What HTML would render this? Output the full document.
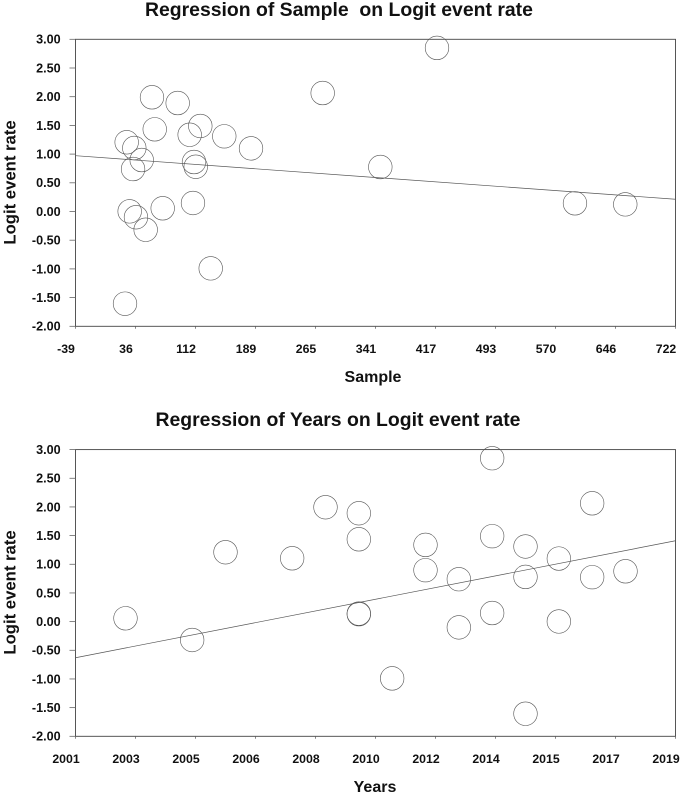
<!DOCTYPE html>
<html>
<head>
<meta charset="utf-8">
<title>Regression charts</title>
<style>
html,body{margin:0;padding:0;background:#fff;width:685px;height:795px;overflow:hidden}
svg{display:block;position:absolute;left:0;top:0}
text{font-family:"Liberation Sans",Arial,sans-serif;font-weight:bold;fill:#111;white-space:pre}
.tick{font-size:12.6px}
.xtick{font-size:12.3px}
.title{font-size:19.4px}
.axt{font-size:16px}
.axv{font-size:16.7px}
</style>
</head>
<body>
<svg id="chart" xmlns="http://www.w3.org/2000/svg" width="685" height="795" viewBox="0 0 685 795">
  <g style="filter:blur(0.3px)">
  <text class="title" x="145" y="16">Regression of Sample  on Logit event rate</text>
  <text class="title" x="155.5" y="426">Regression of Years on Logit event rate</text>
  <text class="axt" x="373" y="382" text-anchor="middle">Sample</text>
  <text class="axt" x="375" y="792" text-anchor="middle">Years</text>
  <text class="axv" transform="translate(15.5,182.5) rotate(-90)" text-anchor="middle">Logit event rate</text>
  <text class="axv" transform="translate(15.5,592.5) rotate(-90)" text-anchor="middle">Logit event rate</text>
  <g id="plots"></g>
  </g>
</svg>
<script>
var rateTicks = [3, 2.5, 2, 1.5, 1, 0.5, 0, -0.5, -1, -1.5, -2];
var rateTickLabels = ["3.00", "2.50", "2.00", "1.50", "1.00", "0.50", "0.00", "-0.50", "-1.00", "-1.50", "-2.00"];

var sampleTicks = [-39, 37.1, 113.2, 189.3, 265.4, 341.5, 417.6, 493.7, 569.8, 645.9, 722];
var sampleTickLabels = ["-39", "36", "112", "189", "265", "341", "417", "493", "570", "646", "722"];
var sampleValues = [23.8, 25.9, 35.6, 45, 34, 29.7, 37.7, 50, 71.6, 58, 61.5, 90.6, 105.8, 119.3, 111.3, 113.5, 110, 132.5, 149.7, 183.6, 274.5, 419.5, 347.6, 594.5, 658.3];
var sampleRates = [-1.606, 1.206, 1.106, 0.897, 0.74, 0.003, -0.1, -0.317, 0.056, 1.99, 1.432, 1.89, 1.338, 1.49, 0.862, 0.78, 0.148, -0.99, 1.31, 1.1, 2.064, 2.85, 0.775, 0.143, 0.125];
var sampleLineX = [-39, 722];
var sampleLineY = [0.972, 0.213];

var yearTicks = [2001, 2002.8, 2004.6, 2006.4, 2008.2, 2010, 2011.8, 2013.6, 2015.4, 2017.2, 2019];
var yearTickLabels = ["2001", "2003", "2005", "2006", "2008", "2010", "2012", "2014", "2015", "2017", "2019"];
var yearValues = [2002.5, 2004.5, 2005.5, 2007.5, 2008.5, 2009.5, 2009.5, 2009.5, 2009.5, 2010.5, 2011.5, 2011.5, 2012.5, 2012.5, 2013.5, 2013.5, 2013.5, 2014.5, 2014.5, 2014.5, 2015.5, 2015.5, 2016.5, 2016.5, 2017.5];
var yearRates = [0.058, -0.32, 1.21, 1.105, 1.995, 1.89, 1.436, 0.14, 0.13, -0.99, 1.338, 0.897, 0.74, -0.1, 2.85, 1.49, 0.15, 1.31, 0.78, -1.606, 1.1, 0.003, 2.064, 0.775, 0.878];
var yearLineX = [2001, 2019];
var yearLineY = [-0.63, 1.41];

var NS = 'http://www.w3.org/2000/svg';
var root = document.getElementById('plots');

function make(tag, parent) {
  var el = document.createElementNS(NS, tag);
  parent.appendChild(el);
  return el;
}

function strokeLine(el, x1, y1, x2, y2, color, width) {
  el.setAttribute('x1', x1);
  el.setAttribute('y1', y1);
  el.setAttribute('x2', x2);
  el.setAttribute('y2', y2);
  el.setAttribute('stroke', color);
  el.setAttribute('stroke-width', width);
}

function drawPlot(prefix, top, bottom, xTicks, xLabels, xs, ys, lineX, lineY) {
  var left = 75.5, right = 675.5;
  var xMin = xTicks[0], xMax = xTicks[xTicks.length - 1];
  var yMin = -2, yMax = 3;
  function sx(v) { return left + (v - xMin) / (xMax - xMin) * (right - left); }
  function sy(v) { return top + (yMax - v) / (yMax - yMin) * (bottom - top); }

  var g = make('g', root);
  
  

  var frame = make('rect', g);
  
  
  frame.setAttribute('x', left);
  frame.setAttribute('y', top);
  frame.setAttribute('width', right - left);
  frame.setAttribute('height', bottom - top);
  frame.setAttribute('fill', 'none');
  frame.setAttribute('stroke', '#444');
  frame.setAttribute('stroke-width', '0.9');

  rateTicks.forEach(function (t, i) {
    var y = sy(t);
    var tick = make('line', g);
    
    
    strokeLine(tick, 69.5, y, left, y, '#666', 0.8);
    var lab = make('text', g);
    
    
    lab.setAttribute('class', 'tick');
    lab.setAttribute('x', 60.6);
    lab.setAttribute('y', y + 4.4);
    lab.setAttribute('text-anchor', 'end');
    lab.textContent = rateTickLabels[i];
  });

  xTicks.forEach(function (t, i) {
    var x = sx(t);
    var tick = make('line', g);
    
    
    strokeLine(tick, x, bottom, x, bottom + 2.5, '#666', 0.8);
    var lab = make('text', g);
    
    
    lab.setAttribute('class', 'xtick');
    lab.setAttribute('x', x - 9.5);
    lab.setAttribute('y', bottom + 26.5);
    lab.setAttribute('text-anchor', 'middle');
    lab.textContent = xLabels[i];
  });

  var fit = make('line', g);
  
  
  strokeLine(fit, sx(lineX[0]), sy(lineY[0]), sx(lineX[1]), sy(lineY[1]), '#555', 0.7);

  xs.forEach(function (v, i) {
    var c = make('circle', g);
    
    
    c.setAttribute('cx', sx(v));
    c.setAttribute('cy', sy(ys[i]));
    c.setAttribute('r', 11.8);
    c.setAttribute('fill', 'none');
    c.setAttribute('stroke', '#555');
    c.setAttribute('stroke-width', '0.6');
  });
}

drawPlot('sample', 39.3, 326.3, sampleTicks, sampleTickLabels, sampleValues, sampleRates, sampleLineX, sampleLineY);
drawPlot('years', 449.6, 736.3, yearTicks, yearTickLabels, yearValues, yearRates, yearLineX, yearLineY);
</script>
</body>
</html>
